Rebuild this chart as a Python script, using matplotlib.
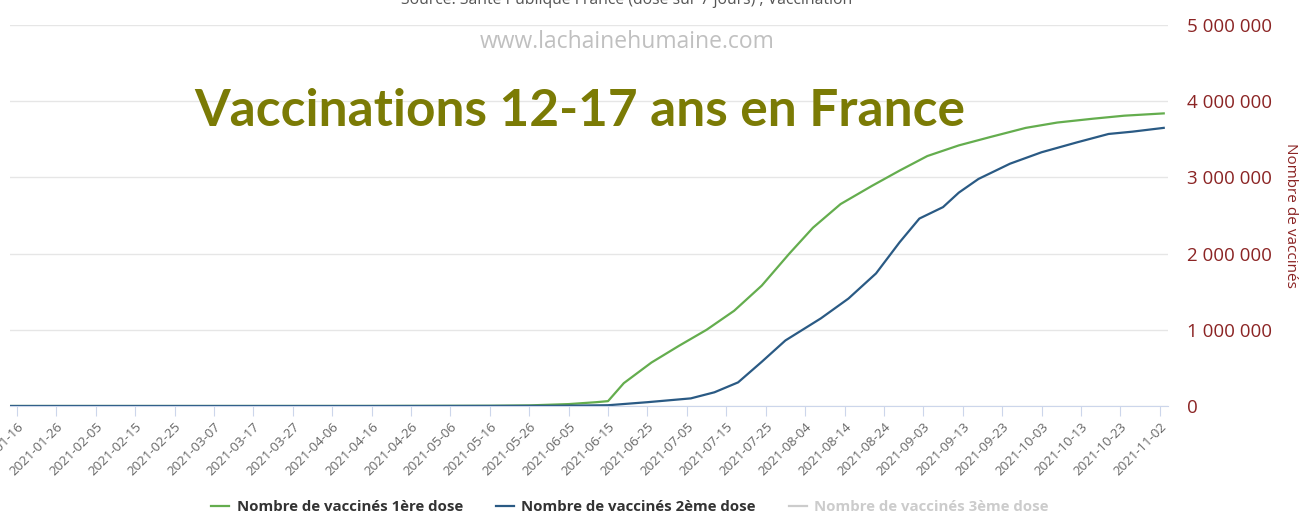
import numpy as np
import pandas as pd
import matplotlib
matplotlib.use("Agg")
import matplotlib.pyplot as plt
from matplotlib.ticker import FuncFormatter
from matplotlib.lines import Line2D

plt.rcParams['font.family'] = ['Open Sans', 'DejaVu Sans']

# cumulative number of vaccinated 12-17 y.o.
dates_dose1 = ['2021-01-14', '2021-03-01', '2021-04-15', '2021-05-16', '2021-05-26',
               '2021-06-05', '2021-06-12', '2021-06-15', '2021-06-19', '2021-06-26',
               '2021-07-03', '2021-07-10', '2021-07-17', '2021-07-24', '2021-07-31',
               '2021-08-06', '2021-08-13', '2021-08-21', '2021-08-28', '2021-09-04',
               '2021-09-12', '2021-09-20', '2021-09-29', '2021-10-07', '2021-10-16',
               '2021-10-24', '2021-11-03']
dose1 = [0, 0, 500, 3000, 8000,
         25000, 50000, 64000, 300000, 570000,
         790000, 1000000, 1250000, 1580000, 2000000,
         2340000, 2650000, 2890000, 3090000, 3280000,
         3420000, 3530000, 3650000, 3720000, 3770000,
         3810000, 3840000]

dates_dose2 = ['2021-01-14', '2021-04-15', '2021-06-01', '2021-06-15', '2021-06-25',
               '2021-07-06', '2021-07-12', '2021-07-18', '2021-07-24', '2021-07-30',
               '2021-08-08', '2021-08-15', '2021-08-22', '2021-08-28', '2021-09-02',
               '2021-09-08', '2021-09-12', '2021-09-17', '2021-09-25', '2021-10-03',
               '2021-10-12', '2021-10-20', '2021-10-26', '2021-11-03']
dose2 = [0, 0, 2000, 10000, 50000,
         100000, 180000, 310000, 580000, 860000,
         1150000, 1410000, 1740000, 2150000, 2460000,
         2610000, 2800000, 2980000, 3180000, 3330000,
         3460000, 3570000, 3600000, 3650000]

legend_labels = ['Nombre de vaccinés 1ère dose', 'Nombre de vaccinés 2ème dose',
                 'Nombre de vaccinés 3ème dose']
yticks = [0, 1000000, 2000000, 3000000, 4000000, 5000000]

green = '#64ad4e'
blue = '#2a5a84'
darkred = '#8b2424'

fig = plt.figure(figsize=(13.11, 5.16), dpi=100)
ax = fig.add_axes([10/1311, 1-406/516, 1158/1311, 381/516])

x1 = pd.to_datetime(dates_dose1)
x2 = pd.to_datetime(dates_dose2)
l1, = ax.plot(x1, dose1, color=green, lw=1.6)
l2, = ax.plot(x2, dose2, color=blue, lw=1.6)

ax.set_xlim(pd.Timestamp('2021-01-14 06:00'), pd.Timestamp('2021-11-04 02:00'))
ax.set_ylim(0, 5000000)

# x ticks every 10 days starting 2021-01-16
ticks = pd.date_range('2021-01-16', '2021-11-02', freq='10D')
ax.set_xticks(ticks)
ax.set_xticklabels([t.strftime('%Y-%m-%d') for t in ticks], rotation=45,
                   ha='right', va='top', rotation_mode='anchor',
                   fontsize=9.5, color='#666666')
ax.tick_params(axis='x', length=7, color='#ccd6eb', pad=3)

ax.yaxis.tick_right()
ax.yaxis.set_label_position('right')
ax.set_yticks(yticks)
ax.yaxis.set_major_formatter(FuncFormatter(lambda v, p: f'{int(v):,}'.replace(',', ' ')))
ax.tick_params(axis='y', length=0, pad=14, labelsize=13.5, labelcolor=darkred)
ax.set_ylabel('Nombre de vaccinés', color=darkred, fontsize=11, rotation=270)
ax.yaxis.set_label_coords(1.112, 0.5)

ax.grid(axis='y', color='#e6e6e6', lw=1)
ax.set_axisbelow(True)
for s in ['top', 'right', 'left']:
    ax.spines[s].set_visible(False)
ax.spines['bottom'].set_color('#ccd6eb')

# texts
fig.text(627/1311, 1.0, 'Source: Santé Publique France (dose sur 7 jours) ; Vaccination',
         ha='center', va='center', fontsize=11.3, color='#555555')
fig.text(627/1311, 1-42/516, 'www.lachainehumaine.com', ha='center', va='center',
         fontsize=16.5, color='#c0c0c0')
fig.text(580/1311, 1-112/516, 'Vaccinations 12-17 ans en France', ha='center',
         va='center', fontsize=37, fontweight='bold', color='#7b7b05',
         family=['Lato', 'DejaVu Sans'])

# legend
l3 = Line2D([], [], color='#cccccc', lw=1.6)
leg = fig.legend([l1, l2, l3], legend_labels, loc='center', ncol=3,
                 bbox_to_anchor=(630/1311, 1-507/516), frameon=False,
                 handlelength=1.2, handletextpad=0.5, columnspacing=2.2,
                 prop={'weight': 'bold', 'size': 10.8})
for t, c in zip(leg.get_texts(), ['#333333', '#333333', '#cccccc']):
    t.set_color(c)

fig.savefig('out.png', dpi=100)
